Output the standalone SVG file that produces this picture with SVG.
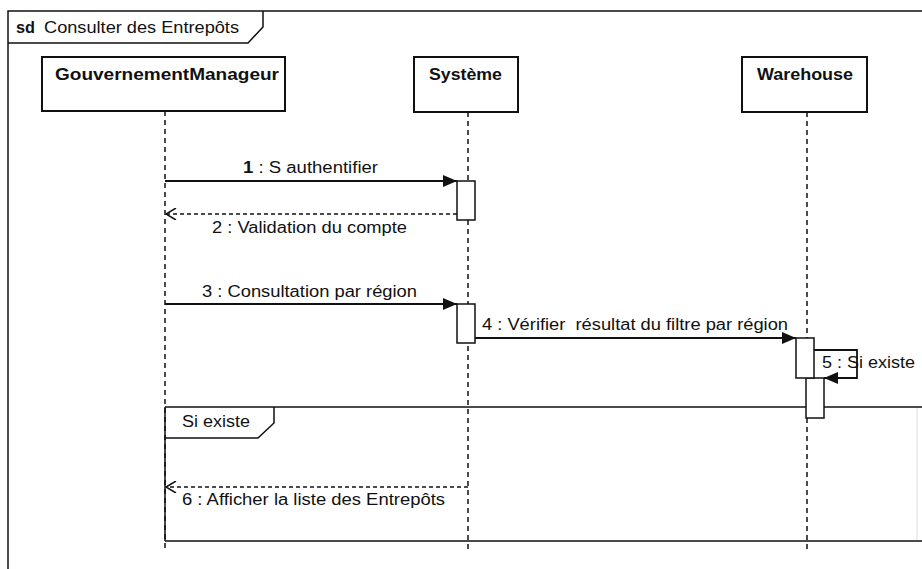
<svg xmlns="http://www.w3.org/2000/svg" width="922" height="569" viewBox="0 0 922 569">
<style>
  text { font-family: "Liberation Sans", Arial, sans-serif; font-size: 16px; fill: #111; }
  .b { font-weight: bold; }
  .frame { fill: none; stroke: #111; stroke-width: 1.5; }
  .box { fill: #fff; stroke: #111; stroke-width: 2; }
  .life { fill: none; stroke: #111; stroke-width: 1.5; stroke-dasharray: 5 4; }
  .act { fill: #fff; stroke: #111; stroke-width: 1.5; }
  .msg { fill: none; stroke: #111; stroke-width: 1.8; }
  .ret { fill: none; stroke: #111; stroke-width: 1.3; stroke-dasharray: 4 3; }
</style>
<defs>
  <marker id="filled" viewBox="0 0 14 12" refX="14" refY="6" markerWidth="14" markerHeight="12" markerUnits="userSpaceOnUse" orient="auto">
    <path d="M0,0 L14,6 L0,12 Z" fill="#111"/>
  </marker>
  <marker id="openh" viewBox="0 0 12 12" refX="11" refY="6" markerWidth="12" markerHeight="12" markerUnits="userSpaceOnUse" orient="auto">
    <path d="M1,0 L11,6 L1,12" fill="none" stroke="#111" stroke-width="1.5"/>
  </marker>
</defs>
<rect width="922" height="569" fill="#fff"/>

<g id="frame">
  <path class="frame" d="M8,570 L8,11 L923,11"/>
  <path class="frame" d="M8,43 L248,43 L263,27 L263,11"/>
  <text x="16" y="33" class="b" textLength="19" lengthAdjust="spacingAndGlyphs">sd</text>
  <text x="44" y="33" textLength="195" lengthAdjust="spacingAndGlyphs">Consulter des Entrepôts</text>
</g>

<g id="lifelines">
  <line class="life" x1="165" y1="111" x2="165" y2="549"/>
  <line class="life" x1="468" y1="112" x2="468" y2="549"/>
  <line class="life" x1="807" y1="112" x2="807" y2="549"/>
</g>

<g id="GouvernementManageur">
  <rect class="box" x="42" y="57" width="243" height="54"/>
  <text x="55" y="80" class="b" textLength="224" lengthAdjust="spacingAndGlyphs">GouvernementManageur</text>
</g>
<g id="Systeme">
  <rect class="box" x="414" y="57" width="104" height="55"/>
  <text x="429" y="80" class="b" textLength="73" lengthAdjust="spacingAndGlyphs">Système</text>
</g>
<g id="Warehouse">
  <rect class="box" x="742" y="57" width="125" height="55"/>
  <text x="757" y="80" class="b" textLength="96" lengthAdjust="spacingAndGlyphs">Warehouse</text>
</g>

<g id="fragment">
  <path class="frame" d="M165,407 L923,407 M165,541 L923,541 M165,407 L165,541"/>
  <line x1="917" y1="408" x2="917" y2="540" stroke="#ddd" stroke-width="1"/>
  <path class="frame" d="M165,438 L258,438 L274,423 L274,407"/>
  <text x="182" y="427" textLength="68" lengthAdjust="spacingAndGlyphs">Si existe</text>
</g>

<g id="activations">
  <rect class="act" x="457" y="181" width="18" height="39"/>
  <rect class="act" x="457" y="304" width="18" height="39"/>
  <rect class="act" x="806" y="378" width="18" height="40"/>
  <rect class="act" x="796" y="338" width="18" height="40"/>
</g>

<g id="connectors">
  <line class="msg" x1="165" y1="181" x2="457" y2="181" marker-end="url(#filled)"/>
  <line class="ret" x1="457" y1="214" x2="166" y2="214" marker-end="url(#openh)"/>
  <line class="msg" x1="165" y1="304" x2="457" y2="304" marker-end="url(#filled)"/>
  <line class="msg" x1="475" y1="338" x2="796" y2="338" marker-end="url(#filled)"/>
  <polyline class="msg" points="814,350 857,350 857,378 824,378" marker-end="url(#filled)"/>
  <line class="ret" x1="468" y1="487" x2="166" y2="487" marker-end="url(#openh)"/>
</g>

<g id="labels">
  <text x="243" y="173" textLength="135" lengthAdjust="spacingAndGlyphs"><tspan class="b">1</tspan> : S authentifier</text>
  <text x="212" y="233" textLength="195" lengthAdjust="spacingAndGlyphs">2 : Validation du compte</text>
  <text x="202" y="297" textLength="215" lengthAdjust="spacingAndGlyphs">3 : Consultation par région</text>
  <text x="482" y="330" textLength="306" lengthAdjust="spacingAndGlyphs" xml:space="preserve">4 : Vérifier  résultat du filtre par région</text>
  <text x="822" y="368" textLength="93" lengthAdjust="spacingAndGlyphs">5 : Si existe</text>
  <text x="182" y="505" textLength="263" lengthAdjust="spacingAndGlyphs">6 : Afficher la liste des Entrepôts</text>
</g>
</svg>
